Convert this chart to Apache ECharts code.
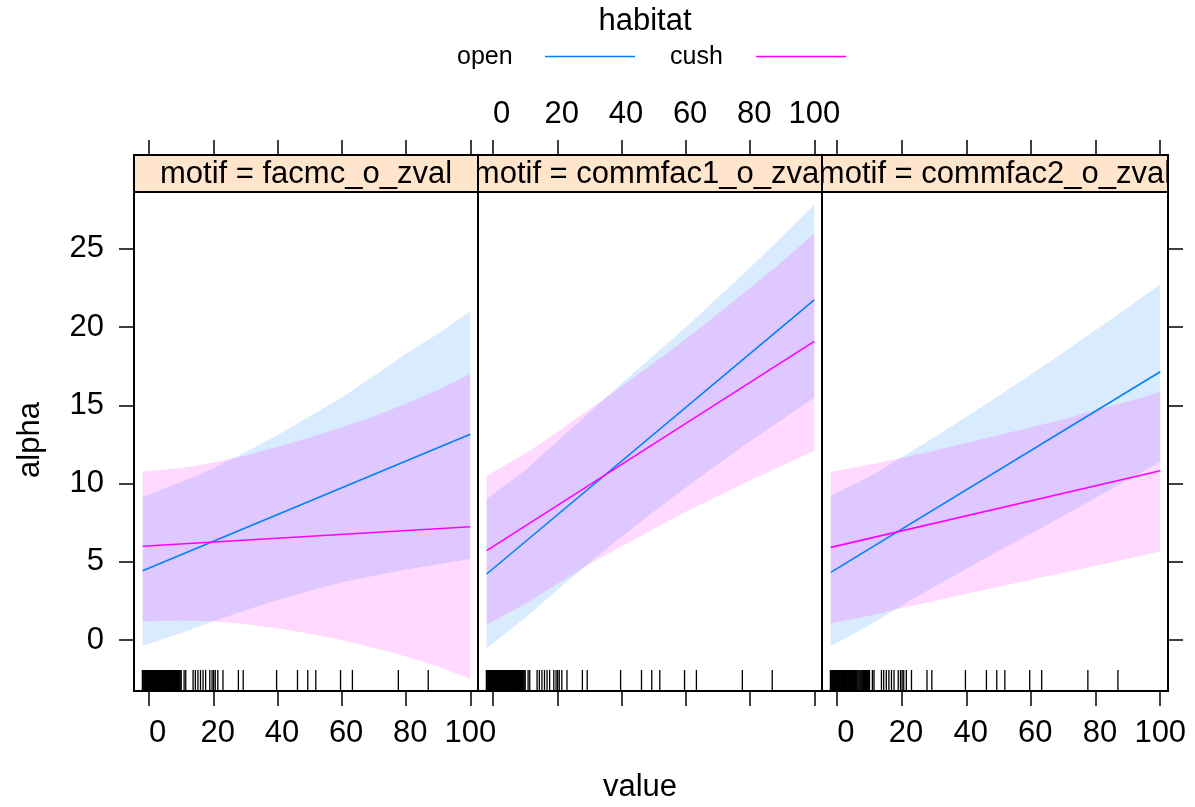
<!DOCTYPE html>
<html><head><meta charset="utf-8">
<script src="https://cdn.jsdelivr.net/npm/echarts@6/dist/echarts.min.js"></script>
<style>html,body{margin:0;padding:0;background:#fff}#c{width:1195px;height:807px}</style>
</head><body><div id="c"></div>
<script>
// ---------- data ----------
const panelNames = ['motif = facmc_o_zval', 'motif = commfac1_o_zval', 'motif = commfac2_o_zval'];
const habitats = ['open', 'cush'];
const xTicks = [0, 20, 40, 60, 80, 100];
const yTicks = [0, 5, 10, 15, 20, 25];
const fitX = [-2, 100];
const bandX = [-2, 10, 20, 30, 40, 50, 60, 70, 80, 90, 100];
const rugX = [-2.1, -1.9, -1.7, -1.5, -1.3, -1.1, -0.9, -0.7, -0.5, -0.3, -0.1, 0.1, 0.3, 0.5, 0.7, 0.9,
  1.1, 1.3, 1.5, 1.7, 1.9, 2.1, 2.3, 2.5, 2.7, 2.9, 3.1, 3.3, 3.5, 3.7, 3.9, 4.1, 4.3, 4.5, 4.7, 4.9,
  5.1, 5.3, 5.5, 5.7, 5.9, 6.1, 6.4, 6.7, 7.0, 7.3, 7.6, 7.9, 8.2, 8.5, 8.8, 9.1, 9.4, 9.7, 10.0,
  10.9, 11.4, 13.7, 14.4, 15.2, 16.0, 16.8, 17.6, 18.9, 19.6, 20.1, 20.6, 21.4, 23.0, 27.8, 29.3,
  39.7, 46.2, 49.4, 51.9, 59.6, 63.3, 77.6, 86.9];

// panel 1: facmc_o_zval
const openFit1 = [4.43, 13.15];
const cushFit1 = [5.99, 7.24];
const openUpper1 = [9.16, 10.1, 11.0, 12.0, 13.1, 14.3, 15.5, 16.9, 18.3, 19.6, 21.0];
const openLower1 = [-0.36, 0.45, 1.2, 1.9, 2.55, 3.15, 3.7, 4.1, 4.5, 4.85, 5.18];
const cushUpper1 = [10.76, 11.0, 11.35, 11.8, 12.35, 12.95, 13.6, 14.3, 15.1, 16.0, 17.0];
const cushLower1 = [1.19, 1.25, 1.2, 1.0, 0.75, 0.4, 0.0, -0.5, -1.05, -1.7, -2.5];
// panel 2: commfac1_o_zval
const openFit2 = [4.22, 21.74];
const cushFit2 = [5.71, 19.09];
const openUpper2 = [9.01, 10.85, 12.7, 14.55, 16.4, 18.2, 20.0, 21.9, 23.8, 25.8, 27.83];
const openLower2 = [-0.51, 1.4, 3.2, 4.95, 6.6, 8.2, 9.75, 11.25, 12.7, 14.1, 15.5];
const cushUpper2 = [10.5, 11.9, 13.3, 14.75, 16.2, 17.7, 19.25, 20.85, 22.5, 24.2, 26.0];
const cushLower2 = [0.98, 2.3, 3.6, 4.85, 6.0, 7.1, 8.2, 9.2, 10.2, 11.15, 12.1];
// panel 3: commfac2_o_zval
const openFit3 = [4.32, 17.15];
const cushFit3 = [5.92, 10.82];
const openUpper3 = [9.2, 10.43, 11.68, 12.96, 14.27, 15.61, 16.98, 18.38, 19.81, 21.27, 22.75];
const openLower3 = [-0.4, 0.95, 2.2, 3.4, 4.55, 5.7, 6.8, 7.95, 9.1, 10.25, 11.4];
const cushUpper3 = [10.76, 11.2, 11.65, 12.1, 12.6, 13.1, 13.6, 14.1, 14.7, 15.25, 15.85];
const cushLower3 = [1.05, 1.55, 2.05, 2.5, 2.95, 3.4, 3.85, 4.3, 4.75, 5.2, 5.65];

// ---------- layout / style ----------
const FONT = 'Liberation Sans, Arial, Helvetica, sans-serif';
const X_MIN = -4.7, X_MAX = 102.4;
const Y_MIN = -3.26, Y_MAX = 28.64;
const LEFTS = [134, 478, 822];
const WIDTHS = [344, 344, 346];
const TOP = 192, HEIGHT = 499, STRIP_TOP = 155, STRIP_H = 37;
const BLUE = '#0080FF', PINK = '#FF00FF';
const BLUE_BAND = 'rgba(0,128,255,0.15)', PINK_BAND = 'rgba(255,0,255,0.15)';

const fits = [[openFit1, cushFit1], [openFit2, cushFit2], [openFit3, cushFit3]];
const bands = [
  [[openUpper1, openLower1], [cushUpper1, cushLower1]],
  [[openUpper2, openLower2], [cushUpper2, cushLower2]],
  [[openUpper3, openLower3], [cushUpper3, cushLower3]]
];

const grid = [], xAxis = [], yAxis = [], series = [];

// R's format() pads tick labels to a common width
const padLabel = v => String(v).padStart(3, ' ');

function tickCfg(values) {
  return { show: true, inside: false, length: 15, customValues: values, lineStyle: { color: '#000', width: 1.5 } };
}
function labelCfg(show, values, margin, pad) {
  const c = { show: show, customValues: values, margin: margin, fontSize: 31, color: '#000', fontFamily: FONT, hideOverlap: false };
  if (pad) c.formatter = v => padLabel(v);
  return c;
}
const noLine = { show: false, onZero: false };

for (let i = 0; i < 3; i++) {
  grid.push({ left: LEFTS[i], top: TOP, width: WIDTHS[i], height: HEIGHT, show: true,
    borderColor: '#000', borderWidth: 2, backgroundColor: 'transparent' });
}
for (let i = 0; i < 3; i++) {
  grid.push({ left: LEFTS[i], top: STRIP_TOP, width: WIDTHS[i], height: STRIP_H, show: true,
    borderColor: '#000', borderWidth: 2, backgroundColor: '#FFE5CC' });
}

// x axes: 0..2 bottom, 3..5 top, 6..8 strip
for (let i = 0; i < 3; i++) {
  xAxis.push({ type: 'value', gridIndex: i, position: 'bottom', min: X_MIN, max: X_MAX,
    axisLine: noLine, splitLine: { show: false },
    axisTick: tickCfg(xTicks), axisLabel: labelCfg(i !== 1, xTicks, 27, true) });
}
for (let i = 0; i < 3; i++) {
  xAxis.push({ type: 'value', gridIndex: i, position: 'top', offset: STRIP_H, min: X_MIN, max: X_MAX,
    axisLine: noLine, splitLine: { show: false },
    axisTick: tickCfg(xTicks), axisLabel: labelCfg(i === 1, xTicks, 25, true) });
}
for (let i = 0; i < 3; i++) {
  xAxis.push({ type: 'value', gridIndex: 3 + i, min: 0, max: 1, show: false });
}
// y axes: 0..2 left per panel, 3 right of panel 3, 4..6 strip
for (let i = 0; i < 3; i++) {
  yAxis.push({ type: 'value', gridIndex: i, position: 'left', min: Y_MIN, max: Y_MAX,
    axisLine: noLine, splitLine: { show: false },
    axisTick: Object.assign(tickCfg(yTicks), { show: i === 0 }), axisLabel: labelCfg(i === 0, yTicks, 30, false) });
}
yAxis.push({ type: 'value', gridIndex: 2, position: 'right', min: Y_MIN, max: Y_MAX,
  axisLine: noLine, splitLine: { show: false },
  axisTick: tickCfg(yTicks), axisLabel: { show: false } });
for (let i = 0; i < 3; i++) {
  yAxis.push({ type: 'value', gridIndex: 3 + i, min: 0, max: 1, show: false });
}

for (let i = 0; i < 3; i++) {
  // confidence bands
  [[bands[i][0], BLUE_BAND, 'open'], [bands[i][1], PINK_BAND, 'cush']].forEach(([b, col, nm]) => {
    const upper = b[0], lower = b[1];
    series.push({
      type: 'custom', name: nm + ' band', xAxisIndex: i, yAxisIndex: i, clip: true, silent: true,
      data: [[bandX[0], lower[0]]], encode: { x: 0, y: 1 },
      renderItem: function (params, api) {
        const pts = [];
        for (let k = 0; k < bandX.length; k++) pts.push(api.coord([bandX[k], upper[k]]));
        for (let k = bandX.length - 1; k >= 0; k--) pts.push(api.coord([bandX[k], lower[k]]));
        return { type: 'polygon', shape: { points: pts }, style: { fill: col } };
      }
    });
  });
  // fitted lines
  [[fits[i][0], BLUE, 'open'], [fits[i][1], PINK, 'cush']].forEach(([f, col, nm]) => {
    series.push({ type: 'line', name: nm, xAxisIndex: i, yAxisIndex: i, symbol: 'none', silent: true,
      data: fitX.map((x, k) => [x, f[k]]), lineStyle: { color: col, width: 1.6 } });
  });
  // rug
  series.push({
    type: 'custom', name: 'rug', xAxisIndex: i, yAxisIndex: i, clip: true, silent: true,
    data: rugX.map(x => [x, Y_MIN]), encode: { x: 0, y: 1 },
    renderItem: function (params, api) {
      const p = api.coord([api.value(0), Y_MIN]);
      return { type: 'line', shape: { x1: p[0], y1: p[1], x2: p[0], y2: p[1] - 21 },
        style: { stroke: '#000', lineWidth: 1.3 } };
    }
  });
  // strip label
  series.push({
    type: 'custom', name: 'strip', xAxisIndex: 6 + i, yAxisIndex: 4 + i, clip: true, silent: true,
    data: [[0.5, 0.5]], encode: { x: 0, y: 1 },
    renderItem: function (params, api) {
      const p = api.coord([0.5, 0.5]);
      return { type: 'text', x: p[0], y: p[1] + 1,
        style: { text: panelNames[i], fill: '#000', fontSize: 31, fontFamily: FONT,
          align: 'center', verticalAlign: 'middle', textAlign: 'center', textVerticalAlign: 'middle' } };
    }
  });
}

const graphic = [
  { type: 'text', x: 645, y: 21, style: { text: 'habitat', fontSize: 31, fontFamily: FONT, fill: '#000', align: 'center', verticalAlign: 'middle' } },
  { type: 'text', x: 457, y: 57, style: { text: habitats[0], fontSize: 25, fontFamily: FONT, fill: '#000', align: 'left', verticalAlign: 'middle' } },
  { type: 'line', shape: { x1: 545, y1: 56.5, x2: 635, y2: 56.5 }, style: { stroke: BLUE, lineWidth: 1.6 } },
  { type: 'text', x: 670, y: 57, style: { text: habitats[1], fontSize: 25, fontFamily: FONT, fill: '#000', align: 'left', verticalAlign: 'middle' } },
  { type: 'line', shape: { x1: 756, y1: 56.5, x2: 846, y2: 56.5 }, style: { stroke: PINK, lineWidth: 1.6 } },
  { type: 'text', x: 30, y: 440, rotation: Math.PI / 2, style: { text: 'alpha', fontSize: 31, fontFamily: FONT, fill: '#000', align: 'center', verticalAlign: 'middle' } },
  { type: 'text', x: 640, y: 787, style: { text: 'value', fontSize: 31, fontFamily: FONT, fill: '#000', align: 'center', verticalAlign: 'middle' } }
];

const chart = echarts.init(document.getElementById('c'), null, { renderer: 'canvas' });
chart.setOption({
  animation: false,
  backgroundColor: '#fff',
  grid: grid, xAxis: xAxis, yAxis: yAxis, series: series, graphic: graphic
});
</script></body></html>
